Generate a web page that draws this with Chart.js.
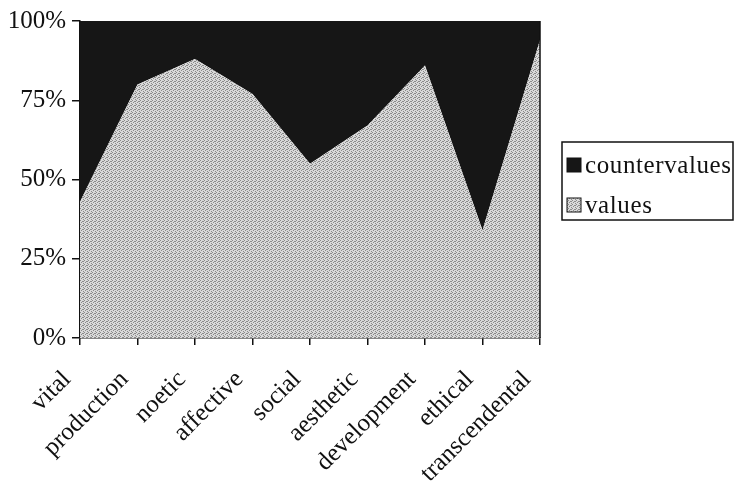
<!DOCTYPE html>
<html>
<head>
<meta charset="utf-8">
<script src="https://cdn.jsdelivr.net/npm/chart.js@4/dist/chart.umd.min.js"></script>
<style>
  html, body { margin: 0; padding: 0; background: #fff; }
  #wrap { width: 735px; height: 488px; }
</style>
</head>
<body>
<div id="wrap"><canvas id="myChart" width="735" height="488"></canvas></div>
<script>
const categories = ['vital', 'production', 'noetic', 'affective', 'social', 'aesthetic', 'development', 'ethical', 'transcendental'];
const values = [43, 80, 88, 77, 55, 67, 86, 34, 94];
const countervalues = [57, 20, 12, 23, 45, 33, 14, 66, 6];
const yTicks = [0, 25, 50, 75, 100];

// stippled grey texture, like the scanned fill
function stipple() {
  const c = document.createElement('canvas');
  c.width = 4; c.height = 4;
  const g = c.getContext('2d');
  g.fillStyle = '#d9d9d9';
  g.fillRect(0, 0, 4, 4);
  g.fillStyle = '#8a8a8a';
  [[0, 0], [2, 1], [1, 2], [3, 3], [3, 1]].forEach(p => g.fillRect(p[0], p[1], 1, 1));
  return g.createPattern(c, 'repeat');
}

const ctx = document.getElementById('myChart');
const grey = stipple();
const serif = '"Liberation Serif", "Times New Roman", serif';

// legend box + right border of the plot
const extras = {
  id: 'extras',
  afterDraw(chart) {
    const g = chart.ctx;
    const a = chart.chartArea;
    g.save();
    g.strokeStyle = '#111';
    g.lineWidth = 1.5;
    g.beginPath();
    g.moveTo(a.right, a.top);
    g.lineTo(a.right, a.bottom);
    g.stroke();

    const bx = 562, by = 142, bw = 171, bh = 78;
    g.lineWidth = 1.5;
    g.strokeRect(bx, by, bw, bh);
    g.font = '25px ' + serif;
    g.letterSpacing = '0.6px';
    g.textBaseline = 'middle';
    const items = [chart.data.datasets[1], chart.data.datasets[0]];
    items.forEach((ds, i) => {
      const y = by + 23 + i * 40;
      g.fillStyle = ds.backgroundColor;
      g.fillRect(bx + 5, y - 7, 14, 14);
      g.strokeStyle = '#111';
      g.lineWidth = 1;
      g.strokeRect(bx + 5, y - 7, 14, 14);
      g.fillStyle = '#111';
      g.fillText(ds.label, bx + 23, y + 1);
    });
    g.restore();
  }
};

const config = {
  type: 'line',
  data: {
    labels: categories,
    datasets: [
      {
        label: 'values',
        data: values,
        fill: 'origin',
        backgroundColor: grey,
        borderWidth: 0,
        pointRadius: 0
      },
      {
        label: 'countervalues',
        data: countervalues,
        fill: '-1',
        backgroundColor: '#161616',
        borderWidth: 0,
        pointRadius: 0
      }
    ]
  },
  options: {
    responsive: false,
    animation: false,
    plugins: {
      legend: { display: false },
      tooltip: { enabled: false }
    },
    layout: {
      padding: { left: 0, right: 195, top: 17, bottom: 0 }
    },
    scales: {
      x: {
        offset: false,
        grid: {
          display: true,
          drawOnChartArea: false,
          drawTicks: true,
          tickLength: 7,
          color: '#111',
          lineWidth: 1.5
        },
        border: { display: true, color: '#111', width: 1.5 },
        ticks: {
          autoSkip: false,
          minRotation: 45,
          maxRotation: 45,
          padding: 20,
          labelOffset: -13,
          color: '#111',
          font: { family: serif, size: 25 }
        },
        afterFit(scale) { scale.height = 150; }
      },
      y: {
        stacked: true,
        min: 0,
        max: 100,
        afterBuildTicks(scale) { scale.ticks = yTicks.map(v => ({ value: v })); },
        grid: {
          display: true,
          drawOnChartArea: false,
          drawTicks: true,
          tickLength: 8,
          color: '#111',
          lineWidth: 1.5
        },
        border: { display: true, color: '#111', width: 1.5 },
        ticks: {
          padding: 6,
          color: '#111',
          font: { family: serif, size: 25 },
          callback: v => v + '%'
        },
        afterFit(scale) { scale.width = 80; }
      }
    }
  },
  plugins: [extras]
};

const myChart = new Chart(ctx, config);
</script>
</body>
</html>
